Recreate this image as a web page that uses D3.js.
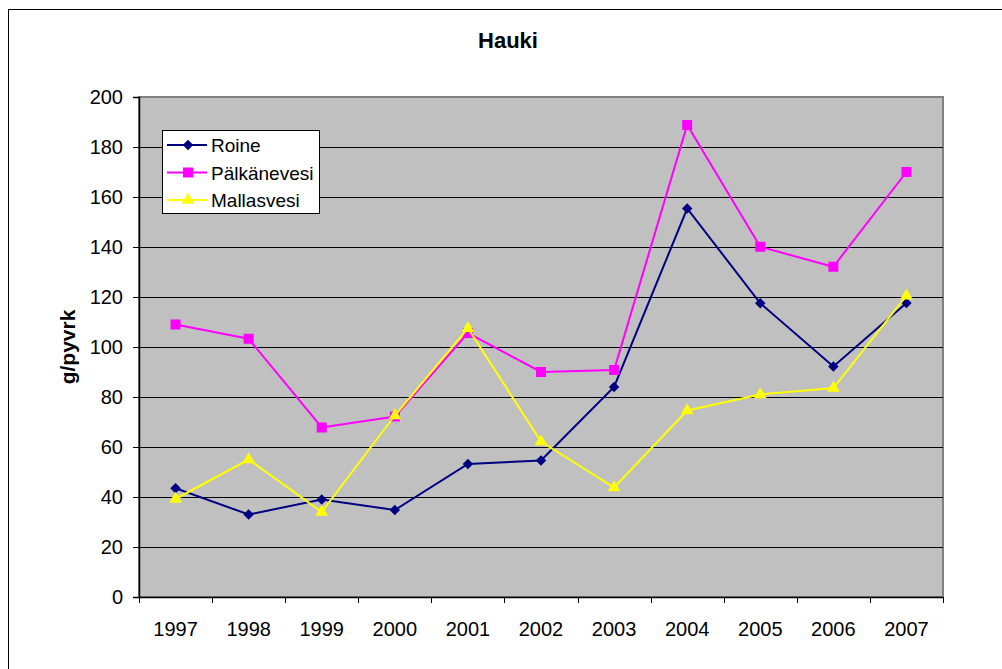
<!DOCTYPE html>
<html>
<head>
<meta charset="utf-8">
<script src="https://cdn.jsdelivr.net/npm/d3@7"></script>
<style>
  body { margin: 0; background: #fff; }
  svg { display: block; font-family: Arial, "Liberation Sans", sans-serif; }
</style>
</head>
<body>
<svg id="chart" width="1002" height="669"></svg>
<script>
const years = ["1997","1998","1999","2000","2001","2002","2003","2004","2005","2006","2007"]
const roine = [43.5, 33, 39, 34.8, 53.2, 54.6, 84, 155.4, 117.5, 92.2, 117.6]
const palkanevesi = [109, 103.3, 67.8, 72.2, 105.6, 90, 90.8, 188.8, 140.1, 132.1, 170]
const mallasvesi = [39.2, 55, 34, 72.6, 107.5, 62.2, 43.8, 74.6, 81, 83.6, 120.5]
const yTicks = [0, 20, 40, 60, 80, 100, 120, 140, 160, 180, 200]

const series = [
  {name: "Roine", values: roine, color: "#000080", marker: "diamond"},
  {name: "Pälkänevesi", values: palkanevesi, color: "#ff00ff", marker: "square"},
  {name: "Mallasvesi", values: mallasvesi, color: "#ffff00", marker: "triangle"}
]

const font = "Arial, 'Liberation Sans', sans-serif"
const svg = d3.select("#chart")
const margin = {top: 97, right: 59, bottom: 72, left: 139}
const width = 1002, height = 669

// outer frame
svg.append("rect")
  .attr("x", 8.5).attr("y", 9.5)
  .attr("width", 1010).attr("height", 680)
  .attr("fill", "#fff")
  .attr("stroke", "#000").attr("stroke-width", 1)

const x = d3.scaleBand()
  .domain(years)
  .range([margin.left, width - margin.right])

const y = d3.scaleLinear()
  .domain([0, 200])
  .range([height - margin.bottom, margin.top])

// plot area
svg.append("rect")
  .attr("x", margin.left).attr("y", margin.top)
  .attr("width", width - margin.right - margin.left)
  .attr("height", height - margin.bottom - margin.top)
  .attr("fill", "#c0c0c0")
  .attr("stroke", "#808080").attr("stroke-width", 2)

// gridlines
svg.append("g")
  .selectAll("line")
  .data(yTicks.filter(d => d > 0 && d < 200))
  .join("line")
  .attr("x1", margin.left).attr("x2", width - margin.right)
  .attr("y1", d => Math.round(y(d)) + 0.5).attr("y2", d => Math.round(y(d)) + 0.5)
  .attr("stroke", "#000").attr("stroke-width", 1)

// y axis
const yAxis = svg.append("g")
  .attr("transform", `translate(${margin.left},0)`)
  .call(d3.axisLeft(y).tickValues(yTicks).tickSize(6).tickPadding(10))
yAxis.selectAll("text").attr("font-size", 20).attr("fill", "#000").attr("font-family", font)
yAxis.select(".domain").attr("stroke", "#000").attr("stroke-width", 1.5)

// x axis with ticks at category boundaries
const xAxis = svg.append("g")
  .attr("transform", `translate(0,${height - margin.bottom})`)
  .call(d3.axisBottom(x).tickSize(0).tickPadding(25))
xAxis.selectAll("text").attr("font-size", 20).attr("fill", "#000").attr("font-family", font)
xAxis.select(".domain").attr("stroke", "#000").attr("stroke-width", 1.5)
xAxis.append("g")
  .selectAll("line")
  .data(years.map(d => x(d)).concat([x(years[years.length - 1]) + x.bandwidth()]))
  .join("line")
  .attr("x1", d => Math.round(d) + 0.5).attr("x2", d => Math.round(d) + 0.5)
  .attr("y1", 0).attr("y2", 6)
  .attr("stroke", "#000")

const cx = d => x(d) + x.bandwidth() / 2

const symbolFor = {
  diamond: d3.symbol().type(d3.symbolDiamond2).size(70),
  square: d3.symbol().type(d3.symbolSquare).size(100),
  triangle: d3.symbol().type(d3.symbolTriangle).size(70)
}

const line = d3.line()
  .x((d, i) => cx(years[i]))
  .y(d => y(d))

series.forEach(s => {
  svg.append("path")
    .datum(s.values)
    .attr("fill", "none")
    .attr("stroke", s.color)
    .attr("stroke-width", 2)
    .attr("d", line)
  svg.append("g")
    .selectAll("path")
    .data(s.values)
    .join("path")
    .attr("transform", (d, i) => `translate(${cx(years[i])},${y(d)})`)
    .attr("d", symbolFor[s.marker])
    .attr("fill", s.color)
})

// title
svg.append("text")
  .attr("x", 508).attr("y", 48)
  .attr("text-anchor", "middle")
  .attr("font-size", 22).attr("font-weight", "bold")
  .text("Hauki")

// y label
svg.append("text")
  .attr("transform", `translate(75,${(margin.top + height - margin.bottom) / 2}) rotate(-90)`)
  .attr("text-anchor", "middle")
  .attr("font-size", 21).attr("font-weight", "bold")
  .text("g/pyvrk")

// legend
const legend = svg.append("g")
legend.append("rect")
  .attr("x", 162.5).attr("y", 130.5)
  .attr("width", 157).attr("height", 83)
  .attr("fill", "#fff")
  .attr("stroke", "#000").attr("stroke-width", 1)

const rowY = d3.scalePoint().domain(series.map(s => s.name)).range([145, 200])

series.forEach(s => {
  const ry = rowY(s.name)
  legend.append("line")
    .attr("x1", 167).attr("x2", 207)
    .attr("y1", ry).attr("y2", ry)
    .attr("stroke", s.color).attr("stroke-width", 2)
  legend.append("path")
    .attr("transform", `translate(188,${ry})`)
    .attr("d", symbolFor[s.marker])
    .attr("fill", s.color)
  legend.append("text")
    .attr("x", 211).attr("y", ry + 7)
    .attr("font-size", 19)
    .text(s.name)
})
</script>
</body>
</html>
